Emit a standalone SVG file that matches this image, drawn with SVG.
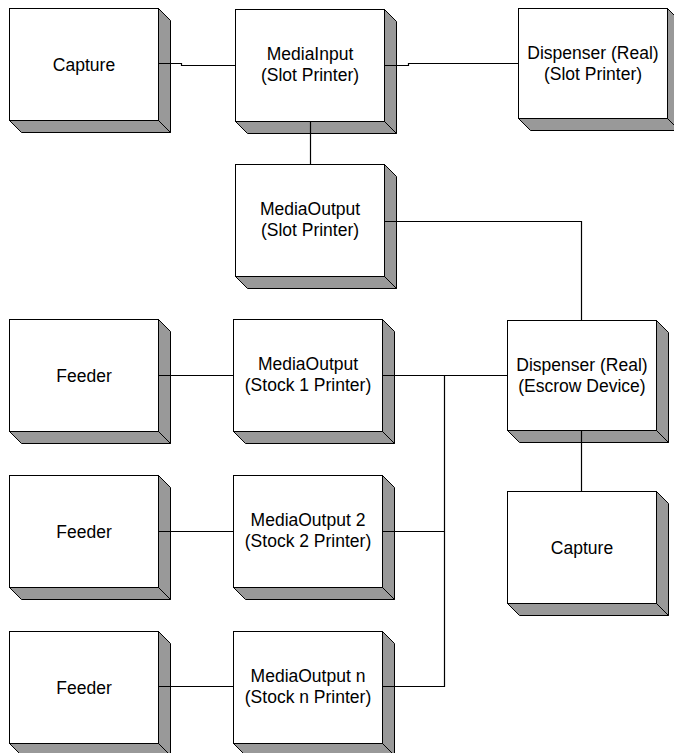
<svg xmlns="http://www.w3.org/2000/svg" xmlns:xlink="http://www.w3.org/1999/xlink" width="674" height="753" viewBox="0 0 674 753">
  <style>
    .face { fill: #ffffff; stroke: #000000; stroke-width: 1; }
    .side { fill: #999999; stroke: #000000; stroke-width: 1; stroke-linejoin: miter; }
    .lbl { font-family: "Liberation Sans", Arial, sans-serif; font-size: 17.5px; fill: #000000; text-anchor: middle; }
    .wire { fill: none; stroke: #000000; stroke-width: 1.2; }
  </style>
  <defs>
    <!-- 3D block: 149 x 112 front face, 12 px extrusion to the lower right -->
    <g id="block">
      <polygon class="side" points="149,0 161,12 161,124 149,112"/>
      <polygon class="side" points="0,112 149,112 161,124 12,124"/>
      <rect class="face" x="0" y="0" width="149" height="112"/>
    </g>
    <g id="blockShort">
      <polygon class="side" points="149,0 161,12 161,122 149,110"/>
      <polygon class="side" points="0,110 149,110 161,122 12,122"/>
      <rect class="face" x="0" y="0" width="149" height="110"/>
    </g>
  </defs>

  <rect x="0" y="0" width="674" height="753" fill="#ffffff"/>

  <g id="nodes">
    <g id="capture-top" transform="translate(9.5,8.5)">
      <use xlink:href="#block"/>
      <text class="lbl" x="74.5" y="62">Capture</text>
    </g>
    <g id="media-input" transform="translate(235.5,9.5)">
      <use xlink:href="#block"/>
      <text class="lbl" x="74.5" y="50">MediaInput</text>
      <text class="lbl" x="74.5" y="71">(Slot Printer)</text>
    </g>
    <g id="dispenser-slot" transform="translate(518.5,8.5)">
      <use xlink:href="#blockShort"/>
      <text class="lbl" x="74.5" y="50">Dispenser (Real)</text>
      <text class="lbl" x="74.5" y="71">(Slot Printer)</text>
    </g>
    <g id="media-output-slot" transform="translate(235.5,164.5)">
      <use xlink:href="#block"/>
      <text class="lbl" x="74.5" y="50">MediaOutput</text>
      <text class="lbl" x="74.5" y="71">(Slot Printer)</text>
    </g>
    <g id="feeder-1" transform="translate(9.5,319.5)">
      <use xlink:href="#block"/>
      <text class="lbl" x="74.5" y="62">Feeder</text>
    </g>
    <g id="media-output-1" transform="translate(233.5,319.5)">
      <use xlink:href="#block"/>
      <text class="lbl" x="74.5" y="50">MediaOutput</text>
      <text class="lbl" x="74.5" y="71">(Stock 1 Printer)</text>
    </g>
    <g id="dispenser-escrow" transform="translate(507.5,320.5)">
      <use xlink:href="#blockShort"/>
      <text class="lbl" x="74.5" y="50">Dispenser (Real)</text>
      <text class="lbl" x="74.5" y="71">(Escrow Device)</text>
    </g>
    <g id="capture-escrow" transform="translate(507.5,491.5)">
      <use xlink:href="#block"/>
      <text class="lbl" x="74.5" y="62">Capture</text>
    </g>
    <g id="feeder-2" transform="translate(9.5,475.5)">
      <use xlink:href="#block"/>
      <text class="lbl" x="74.5" y="62">Feeder</text>
    </g>
    <g id="media-output-2" transform="translate(233.5,475.5)">
      <use xlink:href="#block"/>
      <text class="lbl" x="74.5" y="50">MediaOutput 2</text>
      <text class="lbl" x="74.5" y="71">(Stock 2 Printer)</text>
    </g>
    <g id="feeder-n" transform="translate(9.5,631.5)">
      <use xlink:href="#block"/>
      <text class="lbl" x="74.5" y="62">Feeder</text>
    </g>
    <g id="media-output-n" transform="translate(233.5,631.5)">
      <use xlink:href="#block"/>
      <text class="lbl" x="74.5" y="50">MediaOutput n</text>
      <text class="lbl" x="74.5" y="71">(Stock n Printer)</text>
    </g>
  </g>

  <g id="connectors">
    <!-- capture to media input -->
    <polyline class="wire" points="158.5,63.5 181.5,63.5 181.5,65.5 235.5,65.5"/>
    <!-- media input to slot dispenser -->
    <polyline class="wire" points="384.5,65.5 408.5,65.5 408.5,63.5 518.5,63.5"/>
    <!-- media input to slot media output -->
    <line class="wire" x1="310.5" y1="121.5" x2="310.5" y2="164.5"/>
    <!-- slot media output to escrow dispenser -->
    <polyline class="wire" points="384.5,221.5 581.5,221.5 581.5,320.5"/>
    <!-- escrow dispenser to capture -->
    <line class="wire" x1="581.5" y1="430.5" x2="581.5" y2="491.5"/>
    <!-- feeders to stock printers -->
    <line class="wire" x1="158.5" y1="375.5" x2="233.5" y2="375.5"/>
    <line class="wire" x1="158.5" y1="531.5" x2="233.5" y2="531.5"/>
    <line class="wire" x1="158.5" y1="686.5" x2="233.5" y2="686.5"/>
    <!-- stock printer bus to escrow dispenser -->
    <line class="wire" x1="382.5" y1="375.5" x2="507.5" y2="375.5"/>
    <polyline class="wire" points="444.5,375.5 444.5,686.5 382.5,686.5"/>
    <line class="wire" x1="382.5" y1="531.5" x2="444.5" y2="531.5"/>
  </g>
</svg>
